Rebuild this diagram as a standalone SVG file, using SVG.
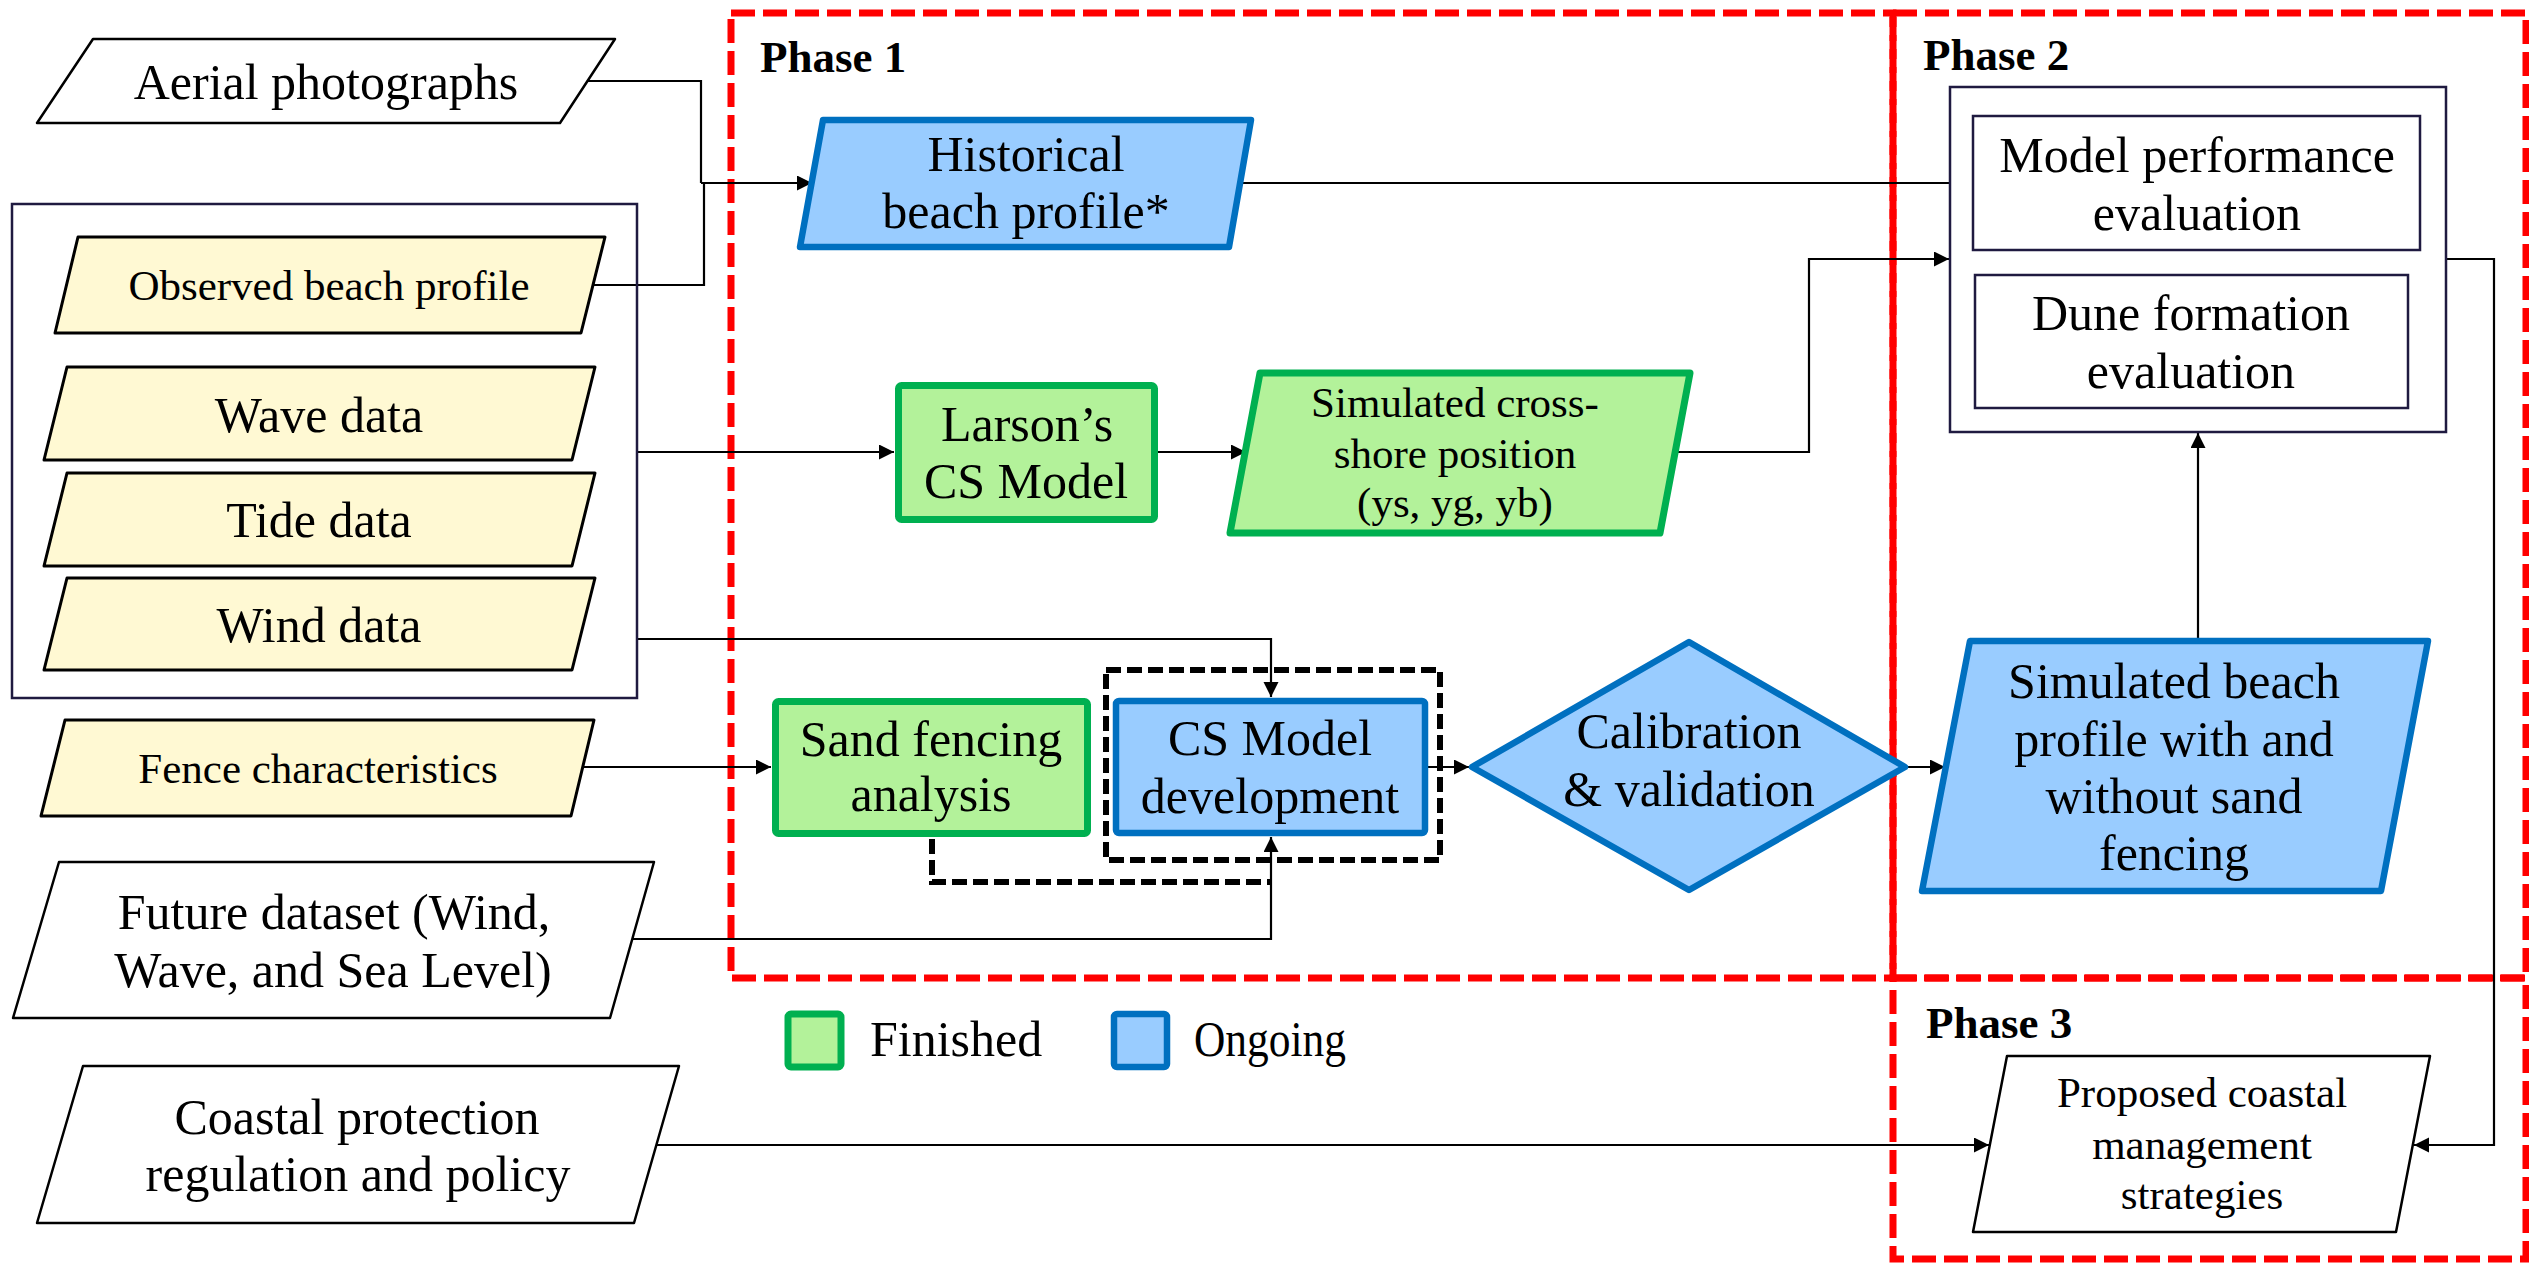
<svg xmlns="http://www.w3.org/2000/svg" width="2529" height="1263" viewBox="0 0 2529 1263">
<style>
text{font-family:"Liberation Serif","DejaVu Serif",serif;fill:#000;text-anchor:middle}
.t{font-size:50px}
.s{font-size:43px}
.ph{font-size:45px;font-weight:bold;text-anchor:start}
.lg{font-size:50px;text-anchor:start}
.phase{fill:none;stroke:#ff0000;stroke-width:7;stroke-dasharray:24 8}
.inp{fill:#fff;stroke:#000;stroke-width:2.5;stroke-linejoin:round}
.yel{fill:#fff9d3;stroke:#000;stroke-width:3;stroke-linejoin:round}
.grn{fill:#b3f29a;stroke:#00b050;stroke-width:7;stroke-linejoin:round}
.blu{fill:#99ccff;stroke:#0070c0;stroke-width:6.5;stroke-linejoin:round}
.nav{fill:none;stroke:#1f1a40;stroke-width:2.5}
.navw{fill:#fff;stroke:#1f1a40;stroke-width:2.5}
.blk{fill:none;stroke:#000;stroke-width:6;stroke-dasharray:15 6}
.c{fill:none;stroke:#000;stroke-width:2.2}
.ca{fill:none;stroke:#000;stroke-width:2.2;marker-end:url(#ah)}
</style>
<defs>
<marker id="ah" markerUnits="userSpaceOnUse" markerWidth="16" markerHeight="16" refX="15" refY="7.5" orient="auto">
<path d="M0,0 L15,7.5 L0,15 Z" fill="#000"/>
</marker>
</defs>

<g id="phases">
<rect class="phase" x="731" y="13" width="1162" height="965"/>
<rect class="phase" x="1893" y="13" width="633" height="965"/>
<rect class="phase" x="1893" y="978" width="633" height="281"/>
<text class="ph" x="760" y="72">Phase 1</text>
<text class="ph" x="1923" y="70">Phase 2</text>
<text class="ph" x="1926" y="1038">Phase 3</text>
</g>

<g id="connectors">
<path class="c" d="M587,81 H701 V183"/>
<path class="c" d="M593,285 H704 V183"/>
<path class="ca" d="M701,183 H812"/>
<path class="ca" d="M637,452 H894"/>
<path class="ca" d="M637,639 H1271 V697"/>
<path class="ca" d="M583,767 H771"/>
<path class="ca" d="M1158,452 H1246"/>
<path class="ca" d="M1675,452 H1809 V259 H1949"/>
<path class="ca" d="M1238,183 H1972"/>
<path class="ca" d="M1428,767 H1469"/>
<path class="ca" d="M1907,767 H1945"/>
<path class="ca" d="M2198,641 V433"/>
<path class="ca" d="M2446,259 H2494 V1145 H2414"/>
<path class="ca" d="M657,1145 H1989"/>
<path class="blk" d="M932,839 V882 H1272"/>
<path class="ca" d="M631,939 H1271 V837"/>
</g>

<g id="inputs-box">
<rect class="nav" x="12" y="204" width="625" height="494"/>
</g>

<g id="aerial">
<polygon class="inp" points="93,39 615,39 560,123 37,123"/>
<text class="t" x="326" y="99">Aerial photographs</text>
</g>
<g id="observed">
<polygon class="yel" points="78,237 605,237 581,333 55,333"/>
<text class="s" x="329" y="300">Observed beach profile</text>
</g>
<g id="wave">
<polygon class="yel" points="67,367 595,367 572,460 44,460"/>
<text class="t" x="319" y="432">Wave data</text>
</g>
<g id="tide">
<polygon class="yel" points="67,473 595,473 572,566 44,566"/>
<text class="t" x="319" y="537">Tide data</text>
</g>
<g id="wind">
<polygon class="yel" points="67,578 595,578 572,670 44,670"/>
<text class="t" x="319" y="642">Wind data</text>
</g>
<g id="fence">
<polygon class="yel" points="65,720 594,720 571,816 41,816"/>
<text class="s" x="318" y="783">Fence characteristics</text>
</g>
<g id="future">
<polygon class="inp" points="59,862 654,862 610,1018 13,1018"/>
<text class="t" x="334" y="929">Future dataset (Wind,</text>
<text class="t" x="333" y="987">Wave, and Sea Level)</text>
</g>
<g id="coastal">
<polygon class="inp" points="83,1066 679,1066 634,1223 37,1223"/>
<text class="t" x="357" y="1134">Coastal protection</text>
<text class="t" x="358" y="1191">regulation and policy</text>
</g>

<g id="historical">
<polygon class="blu" points="823,120 1251,120 1229,247 800,247"/>
<text class="t" x="1026" y="171">Historical</text>
<text class="t" x="1026" y="228">beach profile*</text>
</g>
<g id="larson">
<rect class="grn" x="898.5" y="385.5" width="256" height="134" rx="3"/>
<text class="t" x="1027" y="441">Larson’s</text>
<text class="t" x="1026" y="498">CS Model</text>
</g>
<g id="simcross">
<polygon class="grn" points="1260,373 1690,373 1660,533 1230,533"/>
<text class="s" x="1455" y="417">Simulated cross-</text>
<text class="s" x="1455" y="468">shore position</text>
<text class="s" x="1455" y="517">(ys, yg, yb)</text>
</g>
<g id="sandfencing">
<rect class="grn" x="775.5" y="701.5" width="312" height="132" rx="3"/>
<text class="t" x="931" y="756">Sand fencing</text>
<text class="t" x="931" y="811">analysis</text>
</g>
<g id="csmodel">
<rect class="blk" x="1106" y="670" width="334" height="190"/>
<rect class="blu" x="1116" y="701" width="309" height="132" rx="3"/>
<text class="t" x="1270" y="755">CS Model</text>
<text class="t" x="1270" y="813">development</text>
</g>
<g id="calibration">
<polygon class="blu" points="1472,767 1689,642 1905,767 1689,890"/>
<text class="t" x="1689" y="748">Calibration</text>
<text class="t" x="1689" y="806">&amp; validation</text>
</g>
<g id="evaluation">
<rect class="navw" x="1950" y="87" width="496" height="345"/>
<rect class="nav" x="1973" y="116" width="447" height="134"/>
<text class="t" x="2197" y="172">Model performance</text>
<text class="t" x="2197" y="230">evaluation</text>
<rect class="nav" x="1975" y="275" width="433" height="133"/>
<text class="t" x="2191" y="330">Dune formation</text>
<text class="t" x="2191" y="388">evaluation</text>
</g>
<g id="simbeach">
<polygon class="blu" points="1970,641 2428,641 2381,891 1922,891"/>
<text class="t" x="2174" y="698">Simulated beach</text>
<text class="t" x="2174" y="756">profile with and</text>
<text class="t" x="2174" y="813">without sand</text>
<text class="t" x="2174" y="870">fencing</text>
</g>
<g id="proposed">
<polygon class="inp" points="2007,1056 2430,1056 2396,1232 1973,1232"/>
<text class="s" x="2202" y="1107">Proposed coastal</text>
<text class="s" x="2202" y="1159">management</text>
<text class="s" x="2202" y="1209">strategies</text>
</g>

<g id="legend">
<rect class="grn" x="788" y="1014" width="53" height="53" rx="3"/>
<text class="lg" x="870" y="1056">Finished</text>
<rect class="blu" x="1114" y="1014" width="53" height="53" rx="3"/>
<text class="lg" x="1194" y="1056" textLength="152" lengthAdjust="spacingAndGlyphs">Ongoing</text>
</g>
</svg>
